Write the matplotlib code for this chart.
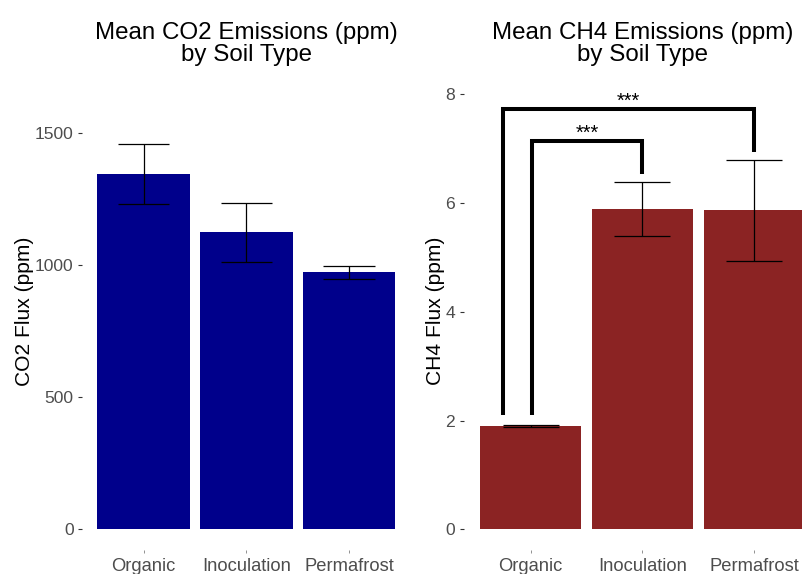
import matplotlib.pyplot as plt
import numpy as np

plt.rcParams['font.family'] = ['Liberation Sans', 'DejaVu Sans']

# mean flux by soil type, with error bar half-widths
soil_types = ['Organic', 'Inoculation', 'Permafrost']
co2_mean = [1346, 1125, 973]
co2_err = [112, 112, 23]
ch4_mean = [1.90, 5.89, 5.87]
ch4_err = [0.01, 0.49, 0.93]

# significance brackets on the CH4 panel: (x left, x right, top, left foot, right foot, label)
brackets = [
    (-0.25, 2.0, 7.73, 2.10, 6.94, '***'),
    (0.01, 1.0, 7.14, 2.10, 6.53, '***'),
]

W, H = 802, 574
fig = plt.figure(figsize=(W / 100, H / 100), dpi=100)

# panel boxes in pixels: left, right, top, bottom
ax1 = fig.add_axes([82 / W, 24 / H, (410.6 - 82) / W, 478 / H])
ax2 = fig.add_axes([463.7 / W, 24 / H, (821.1 - 463.7) / W, 478 / H])


def draw_panel(ax, means, errs, color, title, ylabel, ylim, yticks):
    x = np.arange(len(soil_types))
    ax.bar(x, means, width=0.9, color=color, zorder=1)
    lo = np.array(means) - np.array(errs)
    hi = np.array(means) + np.array(errs)
    ax.vlines(x, lo, hi, color='black', lw=0.9, zorder=2)
    ax.hlines(lo, x - 0.25, x + 0.25, color='black', lw=0.9, zorder=2)
    ax.hlines(hi, x - 0.25, x + 0.25, color='black', lw=0.9, zorder=2)
    ax.set_xlim(-0.6, 2.6)
    ax.set_ylim(*ylim)
    ax.set_xticks(x)
    ax.set_xticklabels(soil_types)
    ax.set_yticks(yticks)
    for s in ax.spines.values():
        s.set_visible(False)
    ax.tick_params(axis='both', length=3, width=0.8, color='#333333',
                   labelcolor='#4D4D4D', labelsize=12.6, pad=3)
    ax.tick_params(axis='x', labelsize=13.2, length=2.5, pad=3, width=0.5,
                   color='#666666')
    ax.set_ylabel(ylabel, fontsize=15.1, color='black', labelpad=0.3)
    ax.set_title(title, fontsize=17.4, linespacing=0.98, pad=8)


draw_panel(ax1, co2_mean, co2_err, '#00008B',
           'Mean CO2 Emissions (ppm)\nby Soil Type', 'CO2 Flux (ppm)',
           (-78.4, 1732.2), [0, 500, 1000, 1500])
draw_panel(ax2, ch4_mean, ch4_err, '#8B2323',
           'Mean CH4 Emissions (ppm)\nby Soil Type', 'CH4 Flux (ppm)',
           (-0.38, 8.41), [0, 2, 4, 6, 8])

for x0, x1, top, y0, y1, lab in brackets:
    ax2.plot([x0, x0, x1, x1], [y0, top, top, y1], color='black', lw=2.9,
             solid_joinstyle='miter', solid_capstyle='butt', zorder=3)
    ax2.text((x0 + x1) / 2, top + 0.04, lab, ha='center', va='baseline',
             fontsize=14.4, color='black')

fig.savefig('out.png', dpi=100)
